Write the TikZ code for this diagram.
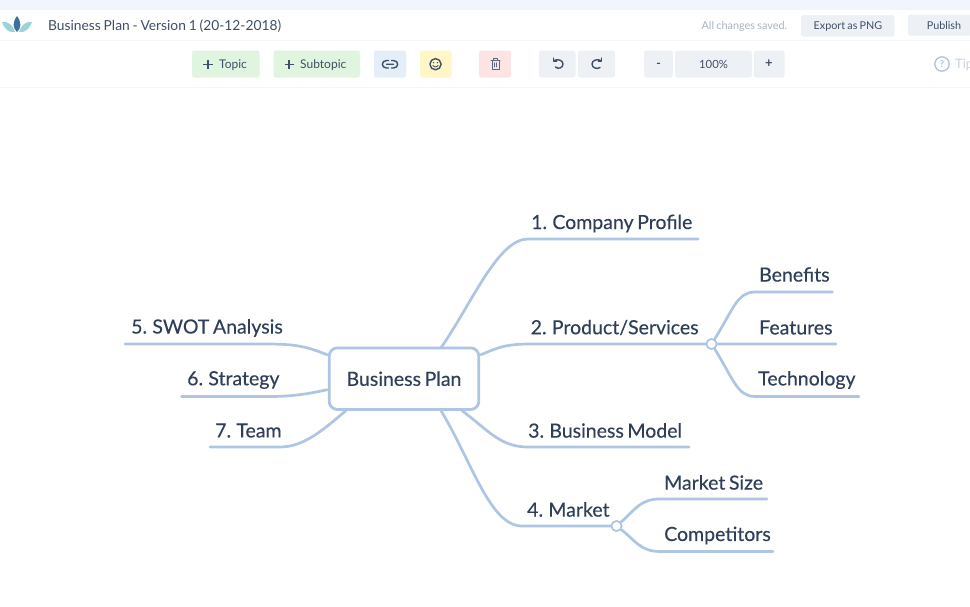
\documentclass[tikz,border=0pt]{standalone}
\usepackage{fontspec}
\setmainfont[WordSpace=0.8]{Lato}
\newfontfamily\medfont[FakeBold=0.25,WordSpace=0.72]{Lato}
\definecolor{ink}{HTML}{2F3F58}
\definecolor{branch}{HTML}{AEC5E3}
\definecolor{strip}{HTML}{F1F6FD}
\definecolor{hair}{HTML}{F6F7F9}
\definecolor{btngreen}{HTML}{E0F5DF}
\definecolor{btnblue}{HTML}{E3EEF9}
\definecolor{btnyellow}{HTML}{FFF7C8}
\definecolor{btnred}{HTML}{FDE4E4}
\definecolor{btngrey}{HTML}{EDF1F6}
\definecolor{uitext}{HTML}{3F4F66}
\definecolor{muted}{HTML}{A9B4C2}
\definecolor{tipblue}{HTML}{A8BFD6}
\definecolor{tiptext}{HTML}{C5D4E3}
\definecolor{leafdark}{HTML}{3F6F9F}
\definecolor{leaflight}{HTML}{9AD3D8}
\tikzset{
  x=1pt,y=-1pt,
  btn/.style={fill=#1,rounded corners=2.5pt,draw=none},
  lbl/.style={anchor=west,inner sep=0pt,text=ink,font=\medfont\fontsize{19.5}{22}\selectfont},
  uitxt/.style={inner sep=0pt,text=uitext,font=\fontsize{12}{13}\selectfont},
  icon/.style={draw=uitext,line width=1.4pt,line cap=round,line join=round,fill=none},
  bline/.style={draw=branch,line width=2.7pt,line cap=round},
  junction/.style={circle,draw=branch,line width=1.6pt,fill=white,minimum size=10pt,inner sep=0pt}
}
\begin{document}
\begin{tikzpicture}
\useasboundingbox (0,0) rectangle (970,606);
\clip (0,0) rectangle (970,606);
\fill[white] (0,0) rectangle (970,606);
% chrome
\fill[strip] (0,0) rectangle (970,9.5);
\draw[hair,line width=.8pt] (0,40.5) -- (970,40.5);
\draw[hair,line width=.8pt] (0,87) -- (970,87);
% logo
\fill[leaflight] (2,22) .. controls (8,21) and (13,25) .. (15,32) .. controls (8,33) and (4,28) .. (2,22) -- cycle;
\fill[leaflight] (32,22) .. controls (26,21) and (21,25) .. (19,32) .. controls (26,33) and (30,28) .. (32,22) -- cycle;
\fill[leafdark] (17,16) .. controls (12.5,22) and (12.5,28) .. (17,32) .. controls (21.5,28) and (21.5,22) .. (17,16) -- cycle;
\node[uitxt,anchor=west,font=\fontsize{13.8}{15}\selectfont] (title) at (48,26.5) {Business Plan - Version 1 (20-12-2018)};
\node[inner sep=0pt,anchor=east,text=muted,font=\fontsize{10.9}{13}\selectfont] (saved) at (787.5,26.5) {All changes saved.};
\fill[btn=btngrey] (801,15) rectangle (894.5,36.5);
\node[uitxt,font=\fontsize{10.8}{13}\selectfont] (export) at (848,26.5) {Export as PNG};
\fill[btn=btngrey] (908,14.5) rectangle (972,35.5);
\node[uitxt,font=\fontsize{10.8}{13}\selectfont] (publish) at (944,25.5) {Publish};
% toolbar buttons
\fill[btn=btngreen] (192,50.5) rectangle (259.5,77.5);
\draw[icon,line width=1.7pt,line cap=butt] (203,64.5) -- (212.5,64.5) (207.75,59.75) -- (207.75,69.25);
\node[uitxt,anchor=west] (topic) at (219,65) {Topic};
\fill[btn=btngreen] (273.5,50.5) rectangle (360,77.5);
\draw[icon,line width=1.7pt,line cap=butt] (284.5,64.5) -- (294,64.5) (289.25,59.75) -- (289.25,69.25);
\node[uitxt,anchor=west] (subtopic) at (300,65) {Subtopic};
\fill[btn=btnblue] (374,50.5) rectangle (406,77.5);
\draw[icon] (388.5,60.5) -- (386.5,60.5) .. controls (381,60.5) and (381,68) .. (386.5,68) -- (388.5,68)
            (391.5,60.5) -- (393.5,60.5) .. controls (399,60.5) and (399,68) .. (393.5,68) -- (391.5,68)
            (386.5,64.25) -- (393.5,64.25);
\fill[btn=btnyellow] (420,50.5) rectangle (451.5,77.5);
\draw[icon] (435.5,64.2) circle[radius=5.6];
\fill[uitext] (433.5,62.6) circle[radius=.8] (437.5,62.6) circle[radius=.8];
\draw[icon,line width=.9pt] (432.8,65.6) .. controls (434,67.6) and (437,67.6) .. (438.2,65.6);
\fill[btn=btnred] (479,50.5) rectangle (511,77.5);
\draw[icon,line width=.85pt,draw=uitext!85] (491,60.5) -- (500,60.5) (493.5,60.5) -- (493.5,58.8) -- (497.5,58.8) -- (497.5,60.5)
   (492,60.5) -- (492,69) -- (499,69) -- (499,60.5) (494.4,62.8) -- (494.4,66.8) (496.6,62.8) -- (496.6,66.8);
\fill[btn=btngrey] (539,50.5) rectangle (575.5,77.5);
\fill[btn=btngrey] (578,50.5) rectangle (615,77.5);
\draw[icon] (554,60.5) .. controls (558,58.5) and (563,60.5) .. (563,64) .. controls (563,68) and (558,69.5) .. (555.5,67);
\draw[icon] (553.5,58) -- (553.5,61) -- (556.7,61);
\draw[icon] (601,60.5) .. controls (597,58.5) and (592,60.5) .. (592,64) .. controls (592,68) and (597,69.5) .. (600,67.5);
\draw[icon] (601.5,58) -- (601.5,61) -- (598.3,61);
\fill[btn=btngrey] (644,50.5) rectangle (673,77.5);
\fill[btn=btngrey] (675,50.5) rectangle (752,77.5);
\fill[btn=btngrey] (754,50.5) rectangle (784.5,77.5);
\node[uitxt,font=\bfseries\fontsize{12}{13}\selectfont] (minus) at (658.5,65) {-};
\node[uitxt,font=\fontsize{11.3}{13}\selectfont] (zoomlevel) at (713.5,64) {100\%};
\node[uitxt,font=\bfseries\fontsize{13}{13}\selectfont] (plus) at (769,64) {+};
\draw[draw=tipblue,line width=1.2pt] (942,64) circle[radius=7.2];
\node[inner sep=0pt,text=tipblue,font=\bfseries\fontsize{9.5}{11}\selectfont] (qmark) at (942,64) {?};
\node[inner sep=0pt,anchor=west,text=tiptext,font=\fontsize{13}{15}\selectfont] (tip) at (955,65) {Tip};
% labels
\node[lbl] (n1) at (531,223.5) {1. Company Profile};
\node[lbl] (n2) at (530.5,327.5) {2. Product/Services};
\node[lbl] (n3) at (528,430.5) {3. Business Model};
\node[lbl] (n4) at (527,509.5) {4. Market};
\node[lbl] (n5) at (131,328) {5. SWOT Analysis};
\node[lbl] (n6) at (187,380) {6. Strategy};
\node[lbl] (n7) at (215,430.5) {7. Team};
\node[lbl] (s1) at (759,274.5) {Benefits};
\node[lbl] (s2) at (759,327.5) {Features};
\node[lbl] (s3) at (758,380) {Technology};
\node[lbl] (s4) at (664,482.5) {Market Size};
\node[lbl] (s5) at (664,535.5) {Competitors};
% line ends
\coordinate (e1) at (698,239);
\coordinate (e3) at (689,447);
\coordinate (e5) at (125,344);
\coordinate (e6) at (181.5,396.5);
\coordinate (e7) at (210,447);
\coordinate (t1) at (832.5,292);
\coordinate (t2) at (836,344);
\coordinate (t3) at (859,396.5);
\coordinate (t4) at (767,499);
\coordinate (t5) at (773,551.5);
% connectors
\node[draw=none,minimum width=149.5pt,minimum height=61.5pt,inner sep=0pt] (rootbox) at (404,378.7) {};
\node[junction] (j2) at (711.5,344) {};
\node[junction] (j4) at (616.5,526) {};
\draw[bline] ([xshift=37pt]rootbox.north) .. controls (472,303) and (498,239) .. (528,239) -- (e1);
\draw[bline] ([yshift=24pt,xshift=2pt]rootbox.east) .. controls (497,348) and (505,344) .. (530,344) -- (j2);
\draw[bline] ([xshift=58pt,yshift=-1pt]rootbox.south) .. controls (488,430) and (500,447) .. (528,447) -- (e3);
\draw[bline] ([xshift=37pt,yshift=-1pt]rootbox.south) .. controls (472,462) and (490,526) .. (522,526) -- (j4);
\draw[bline] ([yshift=24pt,xshift=-2pt]rootbox.west) .. controls (305,346) and (295,344) .. (265,344) -- (e5);
\draw[bline] ([yshift=-11pt,xshift=-2pt]rootbox.west) .. controls (312,393) and (295,396.5) .. (270,396.5) -- (e6);
\draw[bline] ([xshift=-58pt,yshift=-1pt]rootbox.south) .. controls (325,428) and (305,447) .. (280,447) -- (e7);
\draw[bline] (j2) .. controls (733,310) and (737,292) .. (755,292) -- (t1);
\draw[bline] (j2) .. controls (740,344.01) and (790,343.99) .. (t2);
\draw[bline] (j2) .. controls (733,378) and (737,396.5) .. (755,396.5) -- (t3);
\draw[bline] (j4) .. controls (635,510) and (640,499) .. (660,499) -- (t4);
\draw[bline] (j4) .. controls (635,540) and (640,551.5) .. (660,551.5) -- (t5);
% root and junctions on top
\node[draw=branch,line width=2.8pt,fill=white,rounded corners=8pt,minimum width=149.5pt,minimum height=61.5pt,inner sep=0pt,text=ink,font=\medfont\fontsize{19.5}{22}\selectfont] (root) at (404,378.7) {Business Plan};
\node[junction] (j2top) at (j2) {};
\node[junction] (j4top) at (j4) {};
\end{tikzpicture}
\end{document}
